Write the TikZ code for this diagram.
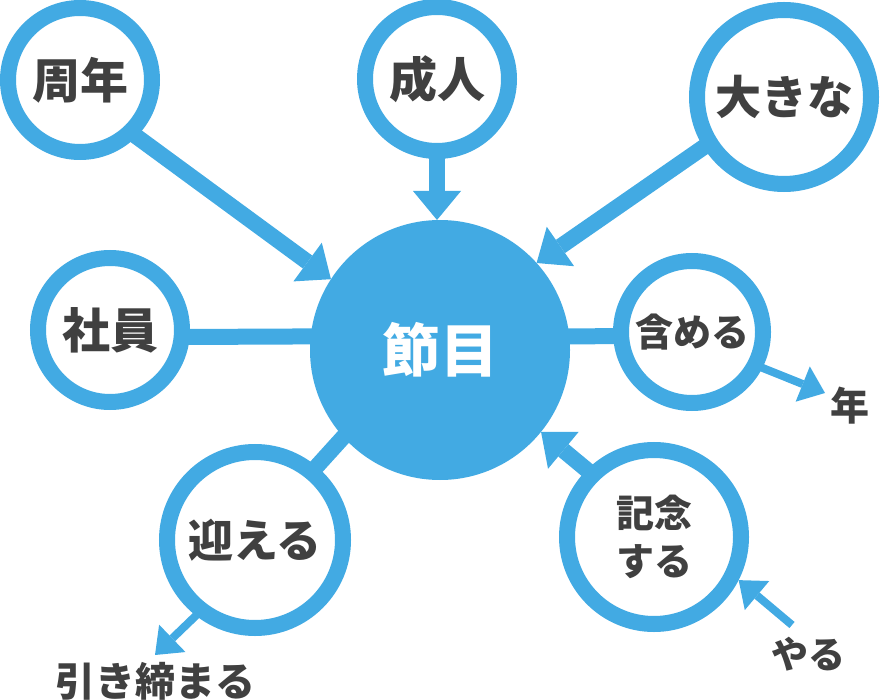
\documentclass[tikz,border=0pt]{standalone}
\usepackage{fontspec}
\setmainfont{Noto Sans CJK JP}
\usetikzlibrary{arrows.meta}
\definecolor{mblue}{HTML}{42AAE3}
\definecolor{mgray}{HTML}{404040}
\newcommand{\fs}[1]{\bfseries\fontsize{#1}{#1}\selectfont}
\begin{document}
\begin{tikzpicture}[x=1pt,y=-1pt,
  ring/.style={circle, draw=mblue, line width=16pt, fill=white, inner sep=0pt, outer sep=8pt, text=mgray, align=center},
  big/.style={draw=mblue, line width=16pt, -{Triangle[width=48pt,length=29pt,line width=0pt]}},
  small/.style={draw=mblue, line width=8pt, -{Triangle[width=38pt,length=24pt,line width=0pt]}},
  plain/.style={draw=mblue, line width=16pt},
  lbl/.style={text=mgray, inner sep=0pt}]
\useasboundingbox (0,0) rectangle (880,700);

% nodes
\node[circle, fill=mblue, minimum size=260pt, inner sep=0pt, outer sep=0pt, text=white, font=\fs{58}] (jie) at (440,350) {節目};
\node[ring, minimum size=144pt, font=\fs{48}] (shunen) at (80,80) {周年};
\node[ring, minimum size=144pt, font=\fs{48}] (seijin) at (437,79) {成人};
\node[ring, minimum size=174pt, font=\fs{46}] (ookina) at (784,97) {大きな};
\node[ring, minimum size=144pt, font=\fs{48}] (shain) at (110,330) {社員};
\node[ring, minimum size=142pt, font=\fs{38}] (fukumeru) at (692,332) {含める};
\node[ring, minimum size=176pt, font=\fs{45}] (mukaeru) at (255,540) {迎える};
\node[ring, minimum size=174pt, font=\bfseries\fontsize{38}{48}\selectfont] (kinen) at (654,537) {記念\\する};

\node[lbl, font=\fs{39}] (nen) at (850,406) {年};
\node[lbl, font=\fs{40}] (hiki) at (155,681) {引き締まる};
\node[lbl, font=\fs{37}] (yaru) at (808,654) {やる};

\coordinate (nenTip) at (825,393);
\coordinate (hikiTip) at (155,655);
\coordinate (yaruStart) at (792,625);

% connectors
\draw[big, shorten <=-6pt] (shunen.-45) -- (jie.147);
\draw[big, shorten <=-6pt] (seijin.south) -- (seijin.south |- jie.north);
\draw[big, shorten <=-6pt] (ookina.-148) -- (jie.42);
\draw[big, shorten <=-6pt] (kinen.135) -- (jie.-39);
\draw[plain, shorten <=-6pt, shorten >=-4pt] (shain.-5) -- (jie.174);
\draw[plain, shorten <=-6pt, shorten >=-4pt] (fukumeru.183) -- (jie.6);
\draw[plain, shorten <=-6pt, shorten >=-4pt] (mukaeru.50) -- (jie.222);
\draw[small, shorten <=-6pt] (fukumeru.-27) -- (nenTip);
\draw[small, shorten <=-6pt] (mukaeru.232) -- (hikiTip);
\draw[small] (yaruStart) -- (kinen.-27);
\end{tikzpicture}
\end{document}
